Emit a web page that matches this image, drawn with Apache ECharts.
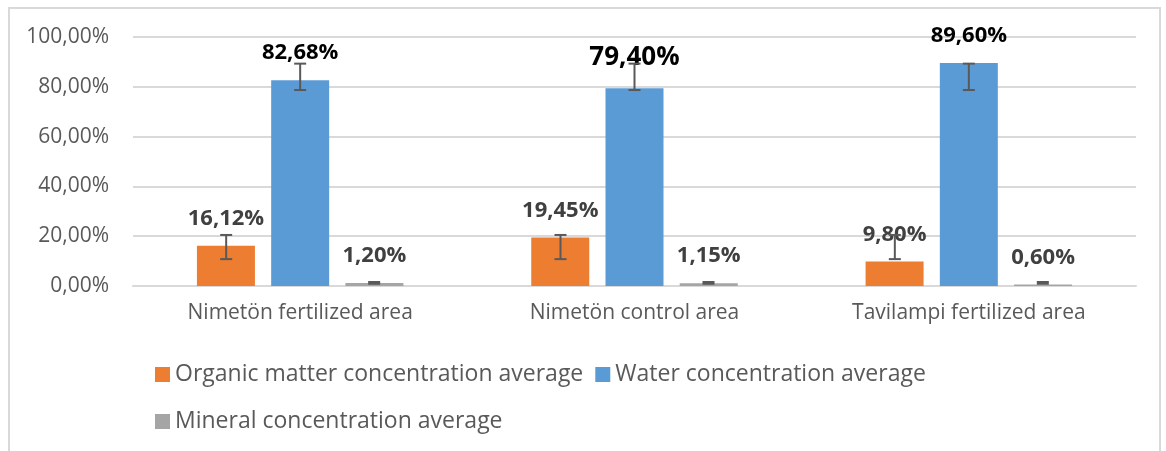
<!DOCTYPE html>
<html>
<head>
<meta charset="utf-8">
<script src="https://cdn.jsdelivr.net/npm/echarts@6/dist/echarts.min.js"></script>
<style>
body{margin:0;background:#fff;}
#frame{position:absolute;left:8px;top:7px;width:1153px;height:460px;border:2px solid #d9d9d9;border-bottom:none;box-sizing:border-box;}
#bar{position:absolute;left:0;top:0;width:1166px;height:451px;}
</style>
</head>
<body>
<div id="frame"></div>
<div id="bar"></div>
<script>
var categories = ['Nimetön fertilized area', 'Nimetön control area', 'Tavilampi fertilized area'];
var seriesNames = ['Organic matter concentration average', 'Water concentration average', 'Mineral concentration average'];
var organic = [16.12, 19.45, 9.80];
var water = [82.68, 79.40, 89.60];
var mineral = [1.20, 1.15, 0.60];
// error bar ends (low, high), same for every area
var organicErr = [[10.8, 20.5], [10.8, 20.5], [10.8, 20.5]];
var waterErr = [[78.7, 89.3], [78.7, 89.3], [78.7, 89.3]];
var mineralErr = [[0.9, 1.6], [0.9, 1.6], [0.9, 1.6]];
var yTicks = [0, 20, 40, 60, 80, 100];

var colors = ['#ed7d31', '#5b9bd5', '#a5a5a5'];
var barW = 58, barStep = 74;

function pct(v){
    return v.toFixed(2).replace('.', ',') + '%';
}

function errSeries(errs, idx){
    var data = [];
    for (var i=0;i<errs.length;i++){
        data.push([i, errs[i][0], errs[i][1]]);
    }
    return {
        type: 'custom',
        z: 10,
        silent: true,
        data: data,
        renderItem: function(params, api){
            var lo = api.coord([api.value(0), api.value(1)]);
            var hi = api.coord([api.value(0), api.value(2)]);
            var x = lo[0] + (idx - 1) * barStep;
            var st = {stroke: '#595959', lineWidth: 2};
            return {
                type: 'group',
                children: [
                    {type: 'line', shape: {x1: x, y1: lo[1], x2: x, y2: hi[1]}, style: st},
                    {type: 'line', shape: {x1: x-6, y1: lo[1], x2: x+6, y2: lo[1]}, style: st},
                    {type: 'line', shape: {x1: x-6, y1: hi[1], x2: x+6, y2: hi[1]}, style: st}
                ]
            };
        }
    };
}

function barSeries(name, vals, color, labelColor){
    var data = [];
    for (var i=0;i<vals.length;i++){
        var item = {value: vals[i]};
        if (vals[i] === 79.40){
            item.label = {fontSize: 26, lineHeight: 26, distance: 18};
        }
        data.push(item);
    }
    return {
        name: name,
        type: 'bar',
        barWidth: barW,
        barGap: '28%',
        itemStyle: {color: color},
        data: data,
        label: {
            show: true,
            position: 'top',
            distance: 16,
            fontFamily: 'Open Sans',
            fontWeight: 'bold',
            fontSize: 22,
            lineHeight: 22,
            color: labelColor,
            formatter: function(p){ return pct(p.value); }
        }
    };
}

var mychart = echarts.init(document.getElementById('bar'));
var option = {
    animation: false,
    textStyle: {fontFamily: 'Open Sans'},
    grid: {left: 133, right: 30, top: 37, bottom: 165},
    legend: [
        {
            data: [seriesNames[0], seriesNames[1]],
            left: 150,
            top: 358,
            icon: 'rect',
            itemWidth: 15,
            itemHeight: 15,
            itemGap: 12,
            textStyle: {fontSize: 23, color: '#595959', fontFamily: 'Open Sans'}
        },
        {
            data: [seriesNames[2]],
            left: 150,
            top: 405,
            icon: 'rect',
            itemWidth: 15,
            itemHeight: 15,
            textStyle: {fontSize: 23, color: '#595959', fontFamily: 'Open Sans'}
        }
    ],
    xAxis: {
        type: 'category',
        data: categories,
        axisTick: {show: false},
        axisLine: {lineStyle: {color: '#d9d9d9', width: 2}},
        axisLabel: {color: '#595959', fontSize: 21, margin: 17, fontFamily: 'Open Sans'}
    },
    yAxis: {
        type: 'value',
        min: yTicks[0],
        max: yTicks[yTicks.length-1],
        interval: 20,
        axisLine: {show: false},
        axisTick: {show: false},
        splitLine: {lineStyle: {color: '#d9d9d9', width: 2}},
        axisLabel: {color: '#595959', fontSize: 21, margin: 24, fontFamily: 'Open Sans',
            formatter: function(v){ return pct(v); }}
    },
    series: [
        barSeries(seriesNames[0], organic, colors[0], '#404040'),
        barSeries(seriesNames[1], water, colors[1], '#000000'),
        barSeries(seriesNames[2], mineral, colors[2], '#404040'),
        errSeries(organicErr, 0),
        errSeries(waterErr, 1),
        errSeries(mineralErr, 2)
    ]
};
mychart.setOption(option);
</script>
</body>
</html>
